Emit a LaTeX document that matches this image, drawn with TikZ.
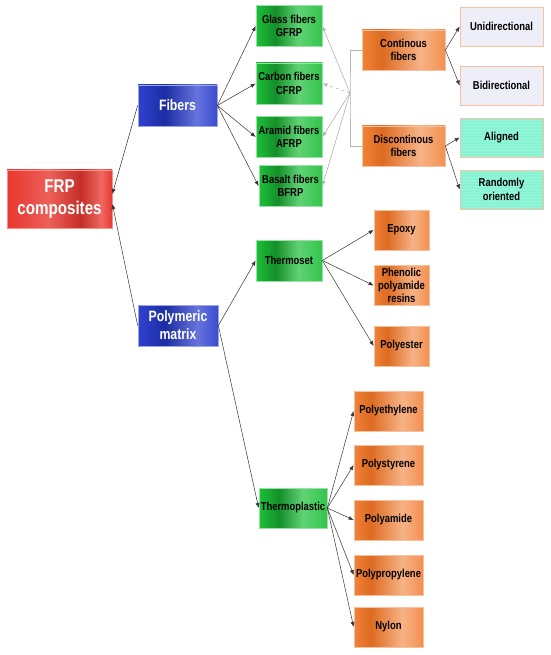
\documentclass[tikz,border=0pt]{standalone}
\usepackage{fontspec}
\setmainfont{Liberation Sans}[FakeStretch=0.82]
\usetikzlibrary{arrows.meta,positioning,calc,patterns}
\definecolor{frpred}{HTML}{E8372F}
\definecolor{frpblue}{HTML}{2438CC}
\definecolor{frpgreen}{HTML}{1CBF38}
\definecolor{frporange}{HTML}{F07424}
\definecolor{frplav}{HTML}{EEEEF9}
\definecolor{frpaqua}{HTML}{86F3D3}
% horizontal gradients of the boxes (25bp..75bp is the visible part)
\pgfdeclarehorizontalshading{redshade}{100bp}{color(0bp)=(frpred); color(25bp)=(frpred); color(45bp)=(frpred!80!white); color(60bp)=(frpred!85!black); color(70bp)=(frpred!75!white); color(75bp)=(frpred); color(100bp)=(frpred)}
\pgfdeclarehorizontalshading{blueshade}{100bp}{color(0bp)=(frpblue); color(25bp)=(frpblue!95!white); color(42bp)=(frpblue!80!black); color(62bp)=(frpblue!70!white); color(75bp)=(frpblue!90!white); color(100bp)=(frpblue)}
\pgfdeclarehorizontalshading{greenshade}{100bp}{color(0bp)=(frpgreen); color(25bp)=(frpgreen); color(40bp)=(frpgreen!75!black); color(57bp)=(frpgreen!70!white); color(75bp)=(frpgreen!90!white); color(100bp)=(frpgreen)}
\pgfdeclarehorizontalshading{orangeshade}{100bp}{color(0bp)=(frporange); color(25bp)=(frporange!90!white); color(37bp)=(frporange!92!black); color(60bp)=(frporange!55!white); color(75bp)=(frporange!80!white); color(100bp)=(frporange)}

\begin{document}
\begin{tikzpicture}[x=1pt,y=-1pt,
  base/.style={rectangle,align=center,inner sep=1pt,line width=0.7pt},
  small/.style={font=\fontsize{11.5}{13.3}\selectfont\bfseries},
  redbox/.style={base,draw=frpred!55!white,shading=redshade,text=white,font=\fontsize{18.5}{22}\selectfont\bfseries},
  bluebox/.style={base,draw=frpblue!45!white,shading=blueshade,text=white,font=\fontsize{15}{18}\selectfont\bfseries},
  greenbox/.style={base,small,draw=frpgreen!45!white,shading=greenshade},
  orangebox/.style={base,small,draw=frporange!45!white,shading=orangeshade,minimum height=40pt},
  lavbox/.style={base,small,draw=frporange!45!white,fill=frplav,minimum width=83pt,minimum height=39pt},
  aquabox/.style={base,small,draw=frporange!45!white,fill=frpaqua,postaction={pattern=horizontal lines,pattern color=frpaqua!85!white},minimum width=83pt,minimum height=39pt},
  link/.style={draw=black!80,line width=0.5pt,-{Latex[length=5pt,width=4pt]}},
  graylink/.style={draw=gray!60,line width=0.6pt},
]
\useasboundingbox (0,0) rectangle (550,655);
% root and main branches
\node[redbox,minimum width=105pt,minimum height=58pt] (frp) at (59.5,199) {FRP\\composites};
\node[bluebox,minimum width=79pt,minimum height=41pt] (fib) at (177.5,105.5) {Fibers};
\node[bluebox,minimum width=80pt,minimum height=41pt] (pm) at (178,325.5) {Polymeric\\matrix};
\draw[link] (fib.west) -- ([yshift=5pt]frp.east);
\draw[link] (pm.west) -- ([yshift=-5pt]frp.east);
% fiber types
\foreach \n/\x/\y/\w/\t in {glass/289/26/66/{Glass fibers\\GFRP},carbon/289/83.5/66/{Carbon fibers\\CFRP},aramid/289/137/66/{Aramid fibers\\AFRP},basalt/290.5/186/63/{Basalt fibers\\BFRP}}{
  \node[greenbox,minimum width=\w pt,minimum height=41pt] (\n) at (\x,\y) {\t};
  \draw[link] (fib.east) -- (\n.west);
}
% fiber length
\node[orangebox,minimum width=83pt] (cont) at (403.5,50) {Continous\\fibers};
\node[orangebox,minimum width=83pt] (disc) at (403.5,146) {Discontinous\\fibers};
\coordinate (brk) at (350,93);
\draw[graylink] (cont.west) -| (brk) |- (disc.west);
\foreach \n in {glass,aramid,basalt}
  \draw[graylink,-{Latex[length=5pt,width=4pt]}] (brk) -- (\n.east);
\draw[graylink,dashed,-{Latex[length=5pt,width=4pt]}] (brk) -- (carbon.east);
% orientation
\node[lavbox] (uni) at (501.5,26.5) {Unidirectional};
\node[lavbox] (bid) at (501.5,85.5) {Bidirectional};
\node[aquabox] (ali) at (501.5,137.5) {Aligned};
\node[aquabox] (ran) at (501.5,189.5) {Randomly\\oriented};
\draw[link] (cont.east) -- (uni.west);
\draw[link] (cont.east) -- (bid.west);
\draw[link] (disc.east) -- (ali.west);
\draw[link] (disc.east) -- (ran.west);
% matrix types
\node[greenbox,minimum width=66pt,minimum height=41pt] (ts) at (289,260.5) {Thermoset};
\node[greenbox,minimum width=68pt,minimum height=40pt] (tp) at (293,508) {Thermoplastic};
\draw[link] (pm.east) -- (ts.west);
\draw[link] (pm.east) -- (tp.west);
\foreach \n/\y/\t in {epoxy/230/Epoxy,phen/285.5/{Phenolic\\polyamide\\resins},polyes/346/Polyester}{
  \node[orangebox,minimum width=55pt] (\n) at (401.5,\y) {\t};
  \draw[link] (ts.east) -- (\n.west);
}
\foreach \n/\y/\t in {pe/411/Polyethylene,ps/465/Polystyrene,pa/520/Polyamide,pp/575/Polypropylene,ny/627/Nylon}{
  \node[orangebox,minimum width=69pt] (\n) at (388.5,\y) {\t};
  \draw[link] (tp.east) -- (\n.west);
}
\end{tikzpicture}
\end{document}
